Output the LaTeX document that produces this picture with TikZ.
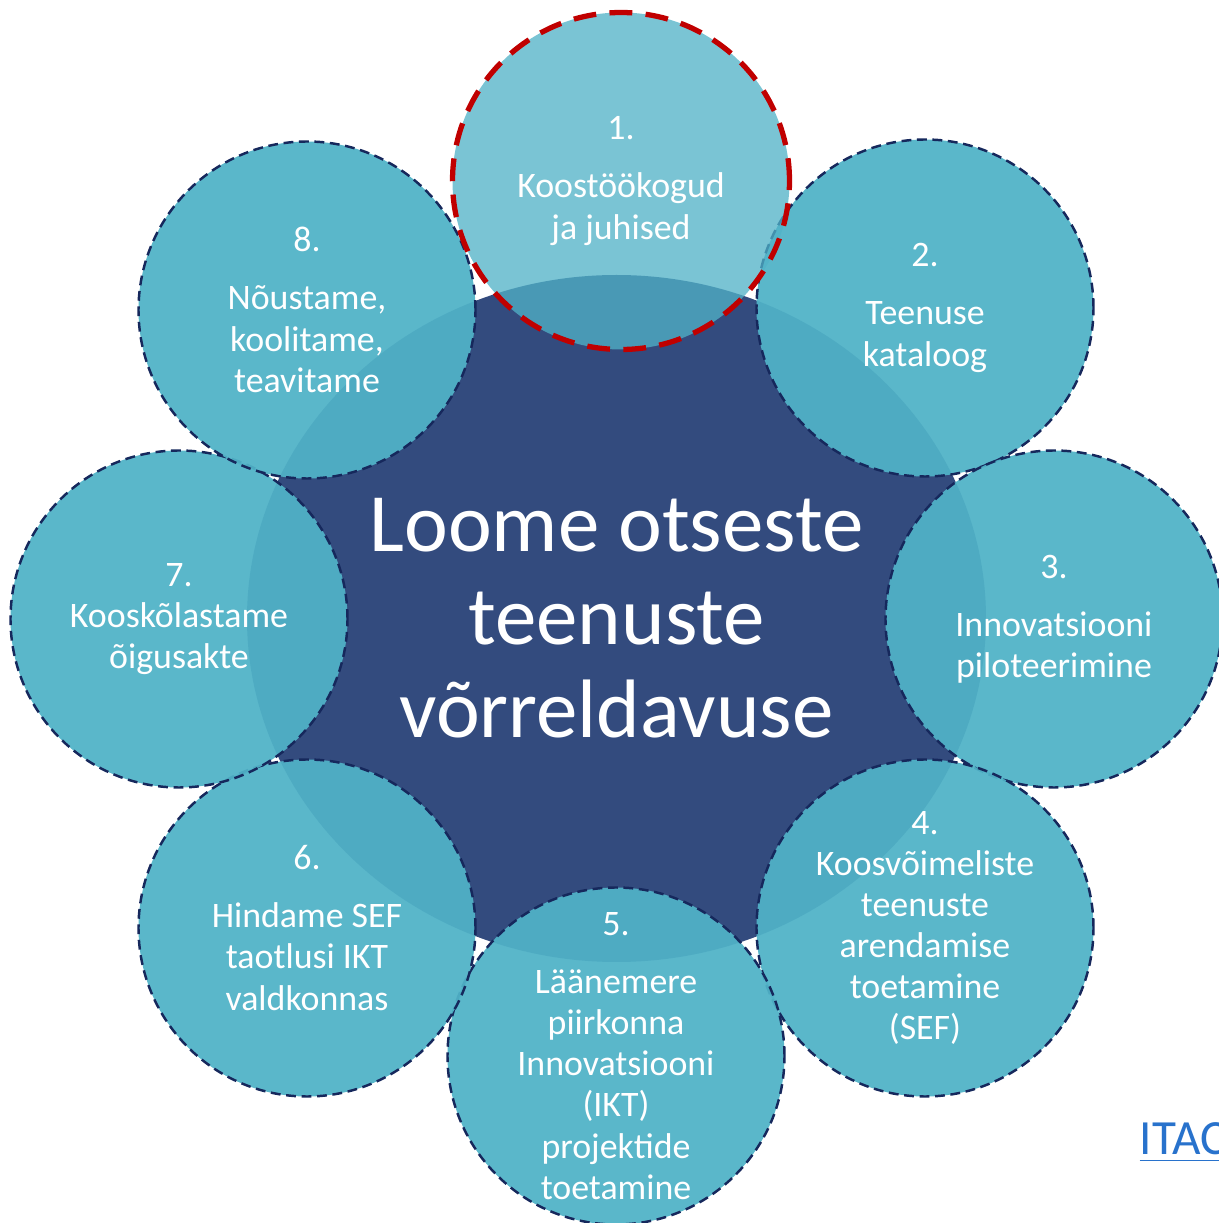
\documentclass[tikz,border=0pt]{standalone}
\usepackage{fontspec}
\setmainfont{Carlito}
\usepackage{tikz}
\usetikzlibrary{shapes.geometric}

\definecolor{hubblue}{RGB}{51,75,126}
\definecolor{bubblecyan}{RGB}{80,178,199}
\definecolor{rimnavy}{RGB}{22,40,92}
\definecolor{rimred}{RGB}{192,0,0}
\definecolor{linkblue}{RGB}{40,114,204}

\tikzset{
	bubble/.style={circle,
		fill=bubblecyan, fill opacity=0.94,
		draw=rimnavy, line width=0.7pt, dash pattern=on 2.8pt off 1.6pt,
		minimum width=3.37cm, inner sep=0pt},
	hotbubble/.style={bubble,
		fill opacity=0.76,
		draw=rimred, line width=1.5pt, dash pattern=on 6.5pt off 3.8pt},
	bubbletext/.style={inner sep=0pt, opacity=1, text opacity=1,
		text=white, align=center,
		font=\fontsize{10.2}{11.7}\selectfont}
}

\begin{document}
\begin{tikzpicture}
					\useasboundingbox (0,0) rectangle (12.19,12.23);
					\clip (0,0) rectangle (12.19,12.23);

					\node[ellipse,
						fill=hubblue,
						minimum width=7.39cm,
						minimum height=6.87cm,
						inner sep=0pt,
						text=white,
						align=center,
						font=\fontsize{23.6}{26.5}\selectfont
					] (core) at (6.165, 6.045) {Loome otseste\\teenuste\\võrreldavuse};

					\node[bubble, label={[bubbletext]center:{2.\\[4.8pt]Teenuse\\kataloog}}] (c2) at (9.25, 9.15) {};
					\node[bubble, label={[bubbletext]center:{3.\\[4.8pt]Innovatsiooni\\piloteerimine}}] (c3) at (10.54, 6.04) {};
					\node[bubble, label={[bubbletext]center:{4.\\Koosvõimeliste\\teenuste\\arendamise\\toetamine\\(SEF)}}] (c4) at (9.25, 2.95) {};
					\node[bubble, label={[bubbletext]center:{5.\\[4.8pt]Läänemere\\piirkonna\\Innovatsiooni\\(IKT)\\projektide\\toetamine}}] (c5) at (6.16, 1.67) {};
					\node[bubble, label={[bubbletext]center:{6.\\[4.8pt]Hindame SEF\\taotlusi IKT\\valdkonnas}}] (c6) at (3.07, 2.95) {};
					\node[bubble, label={[bubbletext]center:{7.\\Kooskõlastame\\õigusakte}}] (c7) at (1.79, 6.04) {};
					\node[bubble, label={[bubbletext]center:{8.\\[4.8pt]Nõustame,\\koolitame,\\teavitame}}] (c8) at (3.07, 9.13) {};

					\node[hotbubble, label={[bubbletext]center:{1.\\[4.8pt]Koostöökogud\\ja juhised}}] (c1) at (6.21, 10.42) {};

					\node[anchor=base west,
						inner sep=0pt,
						text=linkblue,
						font=\fontsize{14}{16}\selectfont
					] (itac) at (11.39, 0.68) {\underline{ITAC}};
				\end{tikzpicture}
\end{document}
